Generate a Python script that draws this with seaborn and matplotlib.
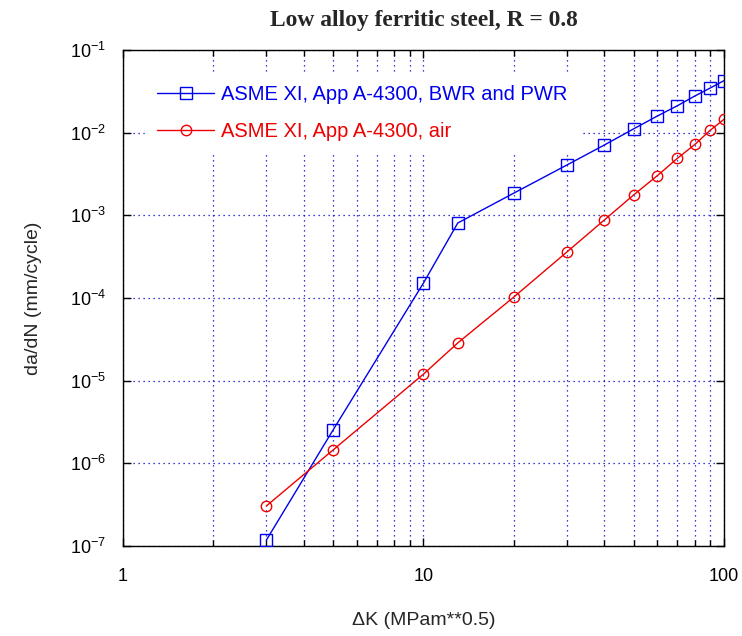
import numpy as np
import pandas as pd
import matplotlib
matplotlib.use("Agg")
import matplotlib.pyplot as plt
import seaborn as sns
from matplotlib.ticker import (LogLocator, FixedLocator, NullFormatter, FixedFormatter,
                               LogFormatterSciNotation)

dK = [3, 5, 10, 13, 20, 30, 40, 50, 60, 70, 80, 90, 100]
rate_water = [1.18e-7, 2.53e-6, 1.52e-4, 8.07e-4, 1.86e-3, 4.06e-3, 7.1e-3,
              1.11e-2, 1.59e-2, 2.12e-2, 2.78e-2, 3.47e-2, 4.26e-2]
rate_air = [3.05e-7, 1.45e-6, 1.2e-5, 2.86e-5, 1.03e-4, 3.6e-4, 8.8e-4,
            1.76e-3, 3.02e-3, 4.9e-3, 7.2e-3, 1.07e-2, 1.45e-2]
x_ticks = [1, 10, 100]
x_ticklabels = ["1", "10", "100"]
y_ticks = [1e-7, 1e-6, 1e-5, 1e-4, 1e-3, 1e-2, 1e-1]
label_water = "ASME XI, App A-4300, BWR and PWR"
label_air = "ASME XI, App A-4300, air"
title = "Low alloy ferritic steel, R = 0.8"
xlabel = "\u0394K (MPam**0.5)"
ylabel = "da/dN (mm/cycle)"

sns.set_style("white")
plt.rcParams['font.family'] = ['Liberation Sans', 'DejaVu Sans']
plt.rcParams['mathtext.fontset'] = 'custom'
plt.rcParams['mathtext.rm'] = 'Liberation Sans'
plt.rcParams['mathtext.it'] = 'Liberation Sans'
plt.rcParams['mathtext.default'] = 'regular'
plt.rcParams['axes.unicode_minus'] = False

fig = plt.figure(figsize=(7.42, 6.36), dpi=100)
ax = fig.add_axes([123/742, 1-546/636, (724-123)/742, (546-50)/636])

df_w = pd.DataFrame({"x": dK, "y": rate_water})
df_a = pd.DataFrame({"x": dK, "y": rate_air})
sns.lineplot(data=df_w, x="x", y="y", ax=ax, color="#0000ee", lw=1.0, marker="s",
             markersize=8, markerfacecolor="none", markeredgecolor="#0000ee",
             markeredgewidth=1.0, label=label_water, zorder=3)
sns.lineplot(data=df_a, x="x", y="y", ax=ax, color="#ee0000", lw=1.0, marker="o",
             markersize=7.5, markerfacecolor="none", markeredgecolor="#ee0000",
             markeredgewidth=1.0, label=label_air, zorder=3)

ax.set_xscale("log")
ax.set_yscale("log")
ax.set_xlim(1, 100)
ax.set_ylim(1e-7, 1e-1)

ax.xaxis.set_major_locator(FixedLocator(x_ticks))
ax.xaxis.set_major_formatter(FixedFormatter(x_ticklabels))
ax.xaxis.set_minor_locator(LogLocator(base=10, subs=np.arange(2, 10)))
ax.xaxis.set_minor_formatter(NullFormatter())
ax.yaxis.set_major_locator(FixedLocator(y_ticks))
ax.yaxis.set_major_formatter(LogFormatterSciNotation())
ax.yaxis.set_minor_locator(FixedLocator([]))
ax.yaxis.set_minor_formatter(NullFormatter())

ax.grid(True, which="major", axis="both", color="#0000cc", linestyle=(0, (1, 3)), lw=0.9)
ax.grid(True, which="minor", axis="x", color="#0000cc", linestyle=(0, (1, 3)), lw=0.9)
ax.set_axisbelow(True)

ax.tick_params(which="both", direction="in", top=True, right=True, bottom=True, left=True,
               labelsize=13, colors="black")
ax.tick_params(which="major", length=6, width=1)
ax.tick_params(axis="y", which="major", pad=12)
ax.tick_params(axis="x", which="major", pad=15.5)
ax.tick_params(which="minor", length=4, width=1)
for s in ax.spines.values():
    s.set_color("black")
    s.set_linewidth(1.0)

ax.set_title(title, fontfamily="Liberation Serif", fontweight="bold", fontsize=16.9, pad=17.5)
ax.set_xlabel(xlabel, fontsize=14, labelpad=19.5)
ax.set_ylabel(ylabel, fontsize=14, labelpad=20)

leg = ax.legend(loc="upper left", bbox_to_anchor=((145-123)/601, (546-73)/496),
                fontsize=14.5, frameon=True,
                handlelength=2.83, handletextpad=0.35, labelspacing=0.9,
                borderaxespad=0.0, borderpad=0.6)
leg.get_frame().set_edgecolor("white")
leg.get_frame().set_facecolor("white")
leg.get_frame().set_alpha(1.0)
leg.get_frame().set_boxstyle("square", pad=0.0)
for t, c in zip(leg.get_texts(), ["#0000ee", "#ee0000"]):
    t.set_color(c)
leg.set_zorder(2.5)

fig.savefig("out.png", dpi=100)
